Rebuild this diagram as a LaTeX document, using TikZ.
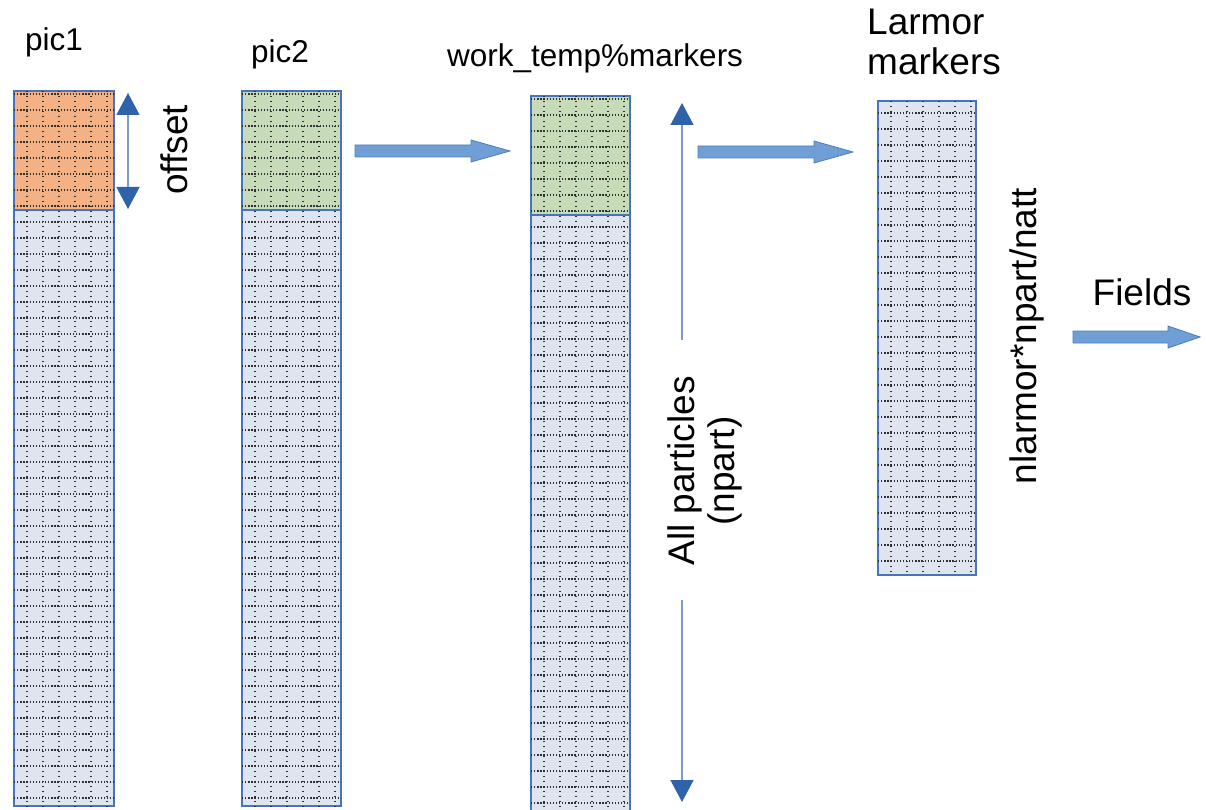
\documentclass[tikz,border=0pt]{standalone}
\usepackage{fontspec}
\setmainfont{Liberation Sans}
\usepackage{xcolor}
\usepackage{tikz}
\usetikzlibrary{arrows.meta,calc}
\definecolor{colfill}{HTML}{DEE5EF}
\definecolor{colline}{HTML}{4874BD}
\definecolor{offorange}{HTML}{F4B183}
\definecolor{offgreen}{HTML}{C7DBB9}
\definecolor{arrfill}{HTML}{6F9FD4}
\definecolor{arrline}{HTML}{4C7DBD}
\definecolor{headblue}{HTML}{2F62A8}
\definecolor{shaftblue}{HTML}{7A9CCB}
\definecolor{dotgray}{HTML}{303030}

% block arrow: x start, x tip, y centre, head length
\newcommand{\blockarrow}[4]{%
  \draw[blockarr] (#1,#3-6) -- (#2-#4,#3-6) -- (#2-#4,#3-11) -- (#2,#3)
    -- (#2-#4,#3+11) -- (#2-#4,#3+6) -- (#1,#3+6) -- cycle;}

\begin{document}
\begin{tikzpicture}[x=1pt,y=-1pt,
  column/.style={rectangle,draw=colline,fill=colfill,line width=1.1pt,inner sep=0pt,outer sep=0pt,anchor=north west},
  topblock/.style={column,fill=#1},
  hdots/.style={dotgray,line width=1.4pt,dash pattern=on 1.3pt off 1.8pt},
  vdots/.style={dotgray,line width=1.4pt,dash pattern=on 1.3pt off 3.7pt},
  blockarr/.style={fill=arrfill,draw=arrline,line width=0.8pt},
  thinarr/.style={shaftblue,line width=1.4pt},
  small/.style={font=\fontsize{31.5}{35}\selectfont,inner sep=0pt},
  big/.style={font=\fontsize{37}{40}\selectfont,inner sep=0pt},
  >={Triangle[length=22pt,width=23pt,color=headblue]}]
  \useasboundingbox (0,0) rectangle (1206,810);

  % the four marker arrays
  \node[column,minimum width=100pt,minimum height=715pt] (pic1) at (14,91) {};
  \node[column,minimum width=99pt,minimum height=715pt] (pic2) at (242,91) {};
  \node[column,minimum width=99pt,minimum height=722pt] (wtm) at (531,96) {};
  \node[column,minimum width=98pt,minimum height=474pt] (larmor) at (878,101) {};
  \node[topblock=offorange,minimum width=100pt,minimum height=119pt] (pic1off) at (14,91) {};
  \node[topblock=offgreen,minimum width=99pt,minimum height=119pt] (pic2off) at (242,91) {};
  \node[topblock=offgreen,minimum width=99pt,minimum height=119pt] (wtmoff) at (531,96) {};

  % dotted grid
  \foreach \c/\dy in {pic1/3,pic2/3,wtm/3,larmor/12}{
    \begin{scope}
      \clip (\c.north west) rectangle (\c.south east);
      \foreach \k in {0,...,45}
        \draw[hdots] ($(\c.north west)+(0,\dy+16*\k)$) -- ++(110,0);
      \foreach \j in {0,...,6}
        \draw[vdots] ($(\c.north west)+(-3+16*\j,0)$) -- ++(0,730);
    \end{scope}}

  % labels
  \node[small,anchor=base west] (lpic1) at (25,51) {pic1};
  \node[small,anchor=base west] (lpic2) at (251,63) {pic2};
  \node[small,anchor=base west] (lwtm) at (447,67) {work\_temp\%markers};
  \node[big,align=left,anchor=west] (llarmor) at (867,42) {Larmor\\markers};
  \node[big,rotate=90,anchor=base] (loffset) at (187,150) {offset};
  \node[big,rotate=90,align=center] (lall) at (705,471) {All particles\\(npart)};
  \node[big,rotate=90,anchor=base] (lnlar) at (1036,336) {nlarmor*npart/natt};
  \node[big,anchor=base] (lfields) at (1142,305) {Fields};

  % offset and particle-range arrows
  \coordinate (offtop) at (128,93);
  \coordinate (offbot) at (128,209);
  \draw[thinarr,<->] (offtop) -- (offbot);
  \coordinate (alltop) at (682,103);
  \coordinate (allup) at (682,340);
  \coordinate (alldown) at (682,600);
  \coordinate (allbot) at (682,802);
  \draw[thinarr,->] (allup) -- (alltop);
  \draw[thinarr,->] (alldown) -- (allbot);

  % flow arrows
  \blockarrow{355}{510}{151}{39}
  \blockarrow{698}{853}{152}{39}
  \blockarrow{1073}{1200}{337}{32}
\end{tikzpicture}
\end{document}
